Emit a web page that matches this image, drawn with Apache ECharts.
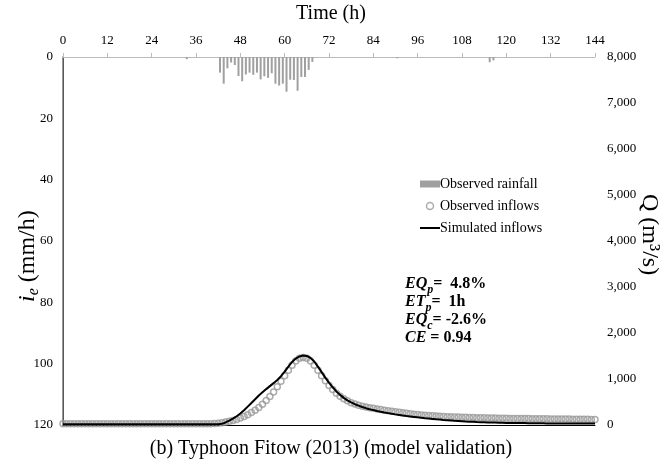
<!DOCTYPE html>
<html>
<head>
<meta charset="utf-8">
<script src="https://cdn.jsdelivr.net/npm/echarts@6/dist/echarts.min.js"></script>
<style>
  html, body { margin: 0; padding: 0; background: #fff; }
  #chart { width: 662px; height: 465px; }
</style>
</head>
<body>
<div id="chart"></div>
<script>
// hourly rainfall (mm/h), bar centred on mid-hour
const rainHours = [33.5, 42.5, 43.5, 44.5, 45.5, 46.5, 47.5, 48.5, 49.5, 50.5, 51.5, 52.5, 53.5, 54.5,
  55.5, 56.5, 57.5, 58.5, 59.5, 60.5, 61.5, 62.5, 63.5, 64.5, 65.5, 66.5, 67.5, 90.5, 115.5, 116.5];
const rainValues = [0.7, 5.1, 8.7, 3.7, 1.8, 2.6, 6.2, 7.9, 5.7, 5.1, 5.8, 5.1, 7.3, 6.3,
  6.8, 5.3, 8.7, 9.3, 8.7, 11.3, 7.4, 7.5, 11.0, 6.5, 6.5, 4.2, 1.6, 0.4, 1.7, 1.1];

// observed inflows, hour 0..144 (m3/s)
const obsFlow = [
  25, 25, 25, 25, 25, 25, 25, 25, 25, 25, 25, 25, 25, 25, 25, 25, 25, 25, 25, 25,
  25, 25, 25, 25, 25, 25, 25, 25, 25, 25, 25, 25, 25, 25, 25, 25, 25, 25, 25, 25,
  25, 30, 38, 50, 65, 80, 100, 120, 150, 185, 225, 270, 320, 380, 450, 530, 620, 720, 830, 950,
  1070, 1190, 1300, 1390, 1450, 1470, 1450, 1390, 1300, 1190, 1070, 960, 860, 770, 690, 625, 570, 525, 485, 455,
  430, 410, 392, 376, 362, 348, 335, 322, 310, 298, 287, 276, 265, 255, 245, 236, 228, 220, 213, 207,
  201, 196, 191, 186, 182, 178, 175, 172, 169, 166, 164, 162, 160, 158, 156, 154, 152, 150, 148, 146,
  145, 144, 143, 142, 141, 140, 139, 138, 137, 136, 135, 134, 133, 132, 131, 130, 129, 128, 127, 126,
  125, 124, 123, 122, 121
];

// simulated inflows, hour 0..144 (m3/s)
const simFlow = [
  15, 15, 15, 15, 15, 15, 15, 15, 15, 15, 15, 15, 15, 15, 15, 15, 15, 15, 15, 15,
  15, 15, 15, 15, 15, 15, 15, 15, 15, 15, 15, 15, 15, 15, 15, 15, 15, 15, 15, 15,
  15, 15, 15, 25, 55, 95, 140, 190, 250, 320, 400, 480, 560, 640, 710, 780, 845, 910, 980, 1060,
  1160, 1270, 1370, 1445, 1490, 1510, 1500, 1460, 1380, 1270, 1150, 1030, 920, 820, 730, 655, 590, 535, 490, 452,
  420, 392, 366, 344, 324, 305, 288, 272, 258, 244, 231, 219, 207, 196, 186, 176, 166, 157, 148, 140,
  132, 124, 117, 110, 104, 98, 92, 87, 82, 77, 73, 69, 65, 62, 59, 56, 54, 52, 50, 48,
  46, 45, 44, 43, 42, 41, 40, 39, 38, 37, 36, 35, 35, 34, 34, 33, 33, 32, 32, 31,
  31, 30, 30, 30, 30
];

const FONT = '"Liberation Serif", "Times New Roman", serif';

const chart = echarts.init(document.getElementById('chart'));

const option = {
  animation: false,
  backgroundColor: '#fff',
  textStyle: { fontFamily: FONT, color: '#000' },
  grid: { left: 63, right: 67, top: 57, bottom: 40 },
  legend: {
    orient: 'vertical',
    left: 414,
    top: 172,
    itemGap: 8,
    itemWidth: 20,
    itemHeight: 7,
    textStyle: { fontFamily: FONT, fontSize: 14, color: '#000', padding: [0, 0, 0, -5] },
    data: [
      { name: 'Observed rainfall', icon: 'rect' },
      { name: 'Observed inflows', icon: 'circle', itemStyle: { color: 'rgba(0,0,0,0)', borderColor: '#999', borderWidth: 1.5 } },
      { name: 'Simulated inflows', itemStyle: { opacity: 0 }, lineStyle: { color: '#000', width: 2 } }
    ]
  },
  xAxis: [
    {
      type: 'value', position: 'top', min: 0, max: 144, interval: 12,
      axisLine: { show: true, lineStyle: { color: '#bbb', width: 1 } },
      axisTick: { show: true, inside: false, length: 4, lineStyle: { color: '#bbb' } },
      axisLabel: { fontFamily: FONT, fontSize: 13, color: '#000', margin: 10 },
      splitLine: { show: false }
    },
    {
      type: 'value', position: 'bottom', min: 0, max: 144, interval: 12,
      axisLine: { show: true, onZero: false, lineStyle: { color: '#000', width: 1 } },
      axisTick: { show: false },
      axisLabel: { show: false },
      splitLine: { show: false }
    }
  ],
  yAxis: [
    {
      type: 'value', inverse: true, min: 0, max: 120, interval: 20, position: 'left',
      axisLine: { show: true, lineStyle: { color: '#000', width: 1 } },
      axisTick: { show: false },
      axisLabel: { fontFamily: FONT, fontSize: 13, color: '#000', margin: 10 },
      splitLine: { show: false }
    },
    {
      type: 'value', min: 0, max: 8000, interval: 1000, position: 'right',
      axisLine: { show: true, lineStyle: { color: '#777', width: 1.5 } },
      axisTick: { show: false },
      axisLabel: {
        fontFamily: FONT, fontSize: 13, color: '#000', margin: 12,
        formatter: v => v.toLocaleString('en-US')
      },
      splitLine: { show: false }
    }
  ],
  series: [
    {
      name: 'Observed rainfall', type: 'bar', xAxisIndex: 0, yAxisIndex: 0,
      barWidth: 2, itemStyle: { color: '#a0a0a0' },
      data: rainHours.map((h, i) => [h, rainValues[i]])
    },
    {
      name: 'Observed inflows', type: 'scatter', xAxisIndex: 1, yAxisIndex: 1,
      symbol: 'circle', symbolSize: 6,
      itemStyle: { color: 'rgba(0,0,0,0)', borderColor: '#999', borderWidth: 1.5 },
      data: obsFlow.map((q, h) => [h, q])
    },
    {
      name: 'Simulated inflows', type: 'line', xAxisIndex: 1, yAxisIndex: 1,
      showSymbol: false, symbol: 'none',
      lineStyle: { color: '#000', width: 2 }, itemStyle: { color: '#000' },
      data: simFlow.map((q, h) => [h, q])
    }
  ],
  graphic: [
    {
      type: 'text', left: 'center', top: 4,
      style: { text: 'Time (h)', font: '20px ' + FONT, fill: '#000' }
    },
    {
      type: 'text', left: 'center', top: 439,
      style: { text: '(b) Typhoon Fitow (2013) (model validation)', font: '20px ' + FONT, fill: '#000' }
    },
    {
      type: 'text', x: 16, y: 302, rotation: Math.PI / 2,
      style: {
        text: '{i|i}{s|e}{n| (mm/h)}',
        fill: '#000',
        rich: {
          i: { fontFamily: FONT, fontSize: 24, fontStyle: 'italic', verticalAlign: 'top' },
          s: { fontFamily: FONT, fontSize: 16, fontStyle: 'italic', verticalAlign: 'top', padding: [10, 0, 0, 0] },
          n: { fontFamily: FONT, fontSize: 24, verticalAlign: 'top' }
        }
      }
    },
    {
      type: 'text', x: 661, y: 194, rotation: -Math.PI / 2,
      style: { text: 'Q (m³/s)', font: '24px ' + FONT, fill: '#000' }
    },
    {
      type: 'text', x: 405, y: 276,
      style: {
        text: '{t|EQ}{s|p}{n|=  4.8%}\n{t|ET}{s|p}{n|=  1h}\n{t|EQ}{s|c}{n|= -2.6%}\n{t|CE}{n| = 0.94}',
        fill: '#000',
        lineHeight: 18,
        rich: {
          t: { fontFamily: FONT, fontSize: 16, fontWeight: 'bold', fontStyle: 'italic', lineHeight: 18, verticalAlign: 'top' },
          s: { fontFamily: FONT, fontSize: 12, fontWeight: 'bold', fontStyle: 'italic', lineHeight: 18, verticalAlign: 'top', padding: [8, 0, 0, 0] },
          n: { fontFamily: FONT, fontSize: 16, fontWeight: 'bold', lineHeight: 18, verticalAlign: 'top' }
        }
      }
    }
  ]
};

chart.setOption(option);
</script>
</body>
</html>
